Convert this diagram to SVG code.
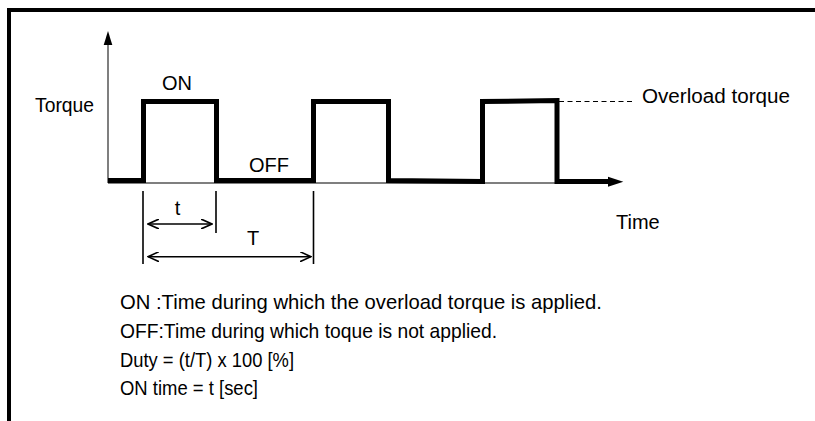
<svg xmlns="http://www.w3.org/2000/svg" width="815" height="421" viewBox="0 0 815 421">
<style>
text{font-family:"Liberation Sans",Arial,sans-serif;fill:#000}
.lbl{font-size:20px}
.note{font-size:21px}
.axis{stroke:#555;stroke-width:1.5;fill:none}
.wave{stroke:#000;stroke-width:5;fill:none;stroke-linejoin:miter}
.dim{stroke:#000;stroke-width:1.6;fill:none}
</style>
<defs>
<marker id="open" viewBox="0 0 12 10" refX="11" refY="5" markerWidth="12" markerHeight="10" markerUnits="userSpaceOnUse" orient="auto-start-reverse">
<path d="M0,0 L11,5 L0,10" fill="none" stroke="#000" stroke-width="1.6"/>
</marker>
</defs>
<rect width="815" height="421" fill="#fff"/>
<path id="frame" d="M9,421 V10 H815" fill="none" stroke="#000" stroke-width="4"/>
<g id="connectors">
<line class="axis" x1="108" y1="45" x2="108" y2="183"/>
<polygon points="108,31 112.3,45 103.7,45" fill="#000"/>
<line class="axis" x1="108" y1="183" x2="609" y2="183"/>
<path class="wave" d="M108,180.5 H143.5 V101.5 H216.5 V180.5 H313.5 V101.5 H388.5 V180.5 L482.5,181.5 V101.5 L557,100.5 V181.5 H610"/>
<polygon points="608,176.7 623.3,181.7 608,186.7" fill="#000"/>
<line x1="559" y1="101.5" x2="634" y2="101.5" stroke="#000" stroke-width="1.2" stroke-dasharray="5,3.5"/>
<line class="dim" x1="143" y1="191" x2="143" y2="264"/>
<line class="dim" x1="216" y1="191" x2="216" y2="233"/>
<line class="dim" x1="313.5" y1="191" x2="313.5" y2="264"/>
<line class="dim" x1="148" y1="224" x2="212" y2="224" marker-start="url(#open)" marker-end="url(#open)"/>
<line class="dim" x1="148" y1="256.7" x2="311" y2="256.7" marker-start="url(#open)" marker-end="url(#open)"/>
</g>
<g id="labels">
<text class="lbl" x="35" y="112" textLength="59" lengthAdjust="spacingAndGlyphs">Torque</text>
<text class="lbl" x="162" y="90">ON</text>
<text class="lbl" x="249" y="172">OFF</text>
<text class="lbl" x="642" y="103" textLength="148" lengthAdjust="spacingAndGlyphs">Overload torque</text>
<text class="lbl" x="177.5" y="215" text-anchor="middle">t</text>
<text class="lbl" x="253" y="245" text-anchor="middle">T</text>
<text class="lbl" x="616" y="229">Time</text>
</g>
<g id="notes">
<text class="note" x="120" y="309" textLength="482" lengthAdjust="spacingAndGlyphs">ON :Time during which the overload torque is applied.</text>
<text class="note" x="120" y="338" textLength="377" lengthAdjust="spacingAndGlyphs">OFF:Time during which toque is not applied.</text>
<text class="note" x="120" y="367" textLength="174" lengthAdjust="spacingAndGlyphs">Duty = (t/T) x 100 [%]</text>
<text class="note" x="120" y="395" textLength="138" lengthAdjust="spacingAndGlyphs">ON time = t [sec]</text>
</g>
</svg>
